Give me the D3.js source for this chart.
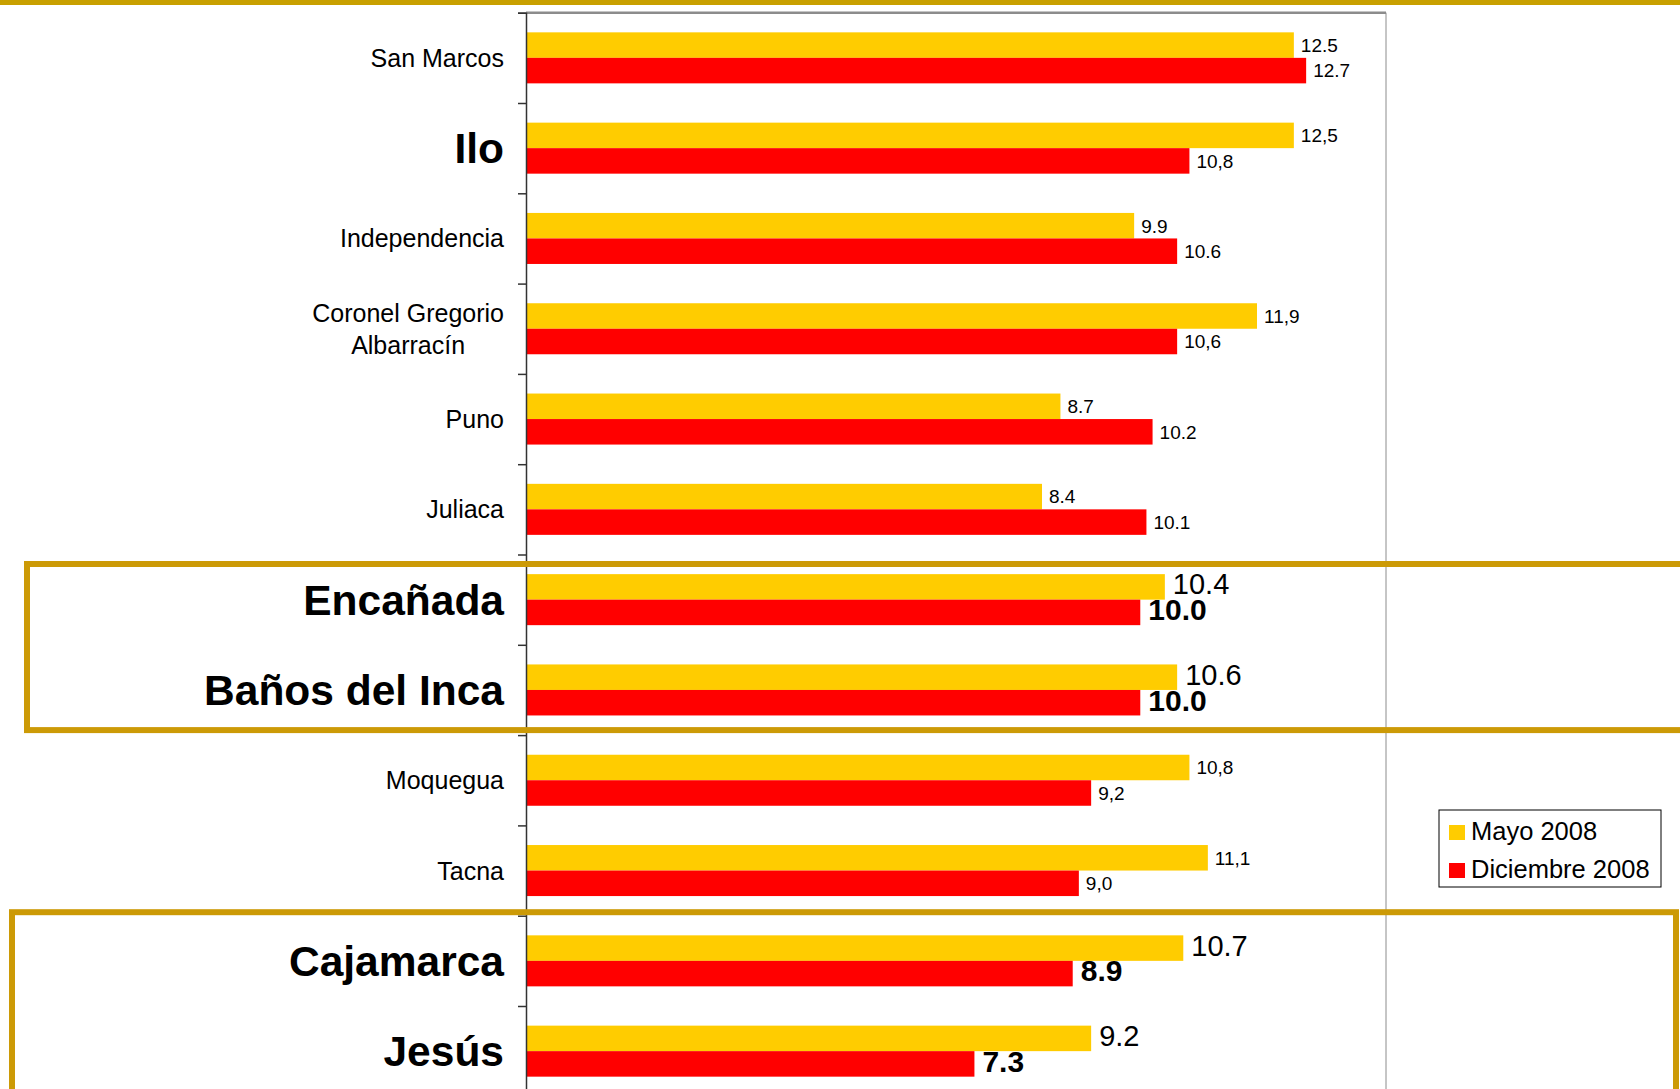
<!DOCTYPE html>
<html>
<head>
<meta charset="utf-8">
<script src="https://cdn.jsdelivr.net/npm/d3@7"></script>
<style>
  html, body { margin: 0; padding: 0; background: #fff; }
  svg { display: block; font-family: Arial, "Liberation Sans", sans-serif; }
</style>
</head>
<body>
<svg></svg>
<script>
const width = 1680;
const height = 1089;

// data
const categories = ["San Marcos", "Ilo", "Independencia", "Coronel Gregorio Albarracín", "Puno",
  "Juliaca", "Encañada", "Baños del Inca", "Moquegua", "Tacna", "Cajamarca", "Jesús"];
const series = ["Mayo 2008", "Diciembre 2008"];
const mayo = [12.5, 12.5, 9.9, 11.9, 8.7, 8.4, 10.4, 10.6, 10.8, 11.1, 10.7, 9.2];
const diciembre = [12.7, 10.8, 10.6, 10.6, 10.2, 10.1, 10.0, 10.0, 9.2, 9.0, 8.9, 7.3];
// labels as printed (some with decimal comma)
const mayoLabels = ["12.5", "12,5", "9.9", "11,9", "8.7", "8.4", "10.4", "10.6", "10,8", "11,1", "10.7", "9.2"];
const dicLabels = ["12.7", "10,8", "10.6", "10,6", "10.2", "10.1", "10.0", "10.0", "9,2", "9,0", "8.9", "7.3"];
const boldCategories = ["Ilo", "Encañada", "Baños del Inca", "Cajamarca", "Jesús"];
const bigLabelCategories = ["Encañada", "Baños del Inca", "Cajamarca", "Jesús"];
const highlightGroups = [["Encañada", "Baños del Inca"], ["Cajamarca", "Jesús"]];
const xMax = 14;

const colors = { "Mayo 2008": "#FFCC00", "Diciembre 2008": "#FF0000" };
const gold = "#CC9A06";

const rows = categories.map((c, i) => ({
  cat: c,
  vals: [
    { s: series[0], v: mayo[i], label: mayoLabels[i] },
    { s: series[1], v: diciembre[i], label: dicLabels[i] }
  ]
}));

const svg = d3.select("svg").attr("width", width).attr("height", height);

const plot = { left: 526, right: 1386, top: 12.7 };
const step = 90.3;

const x = d3.scaleLinear().domain([0, xMax]).range([plot.left, plot.right]);
const y = d3.scaleBand().domain(categories)
  .range([plot.top, plot.top + step * categories.length])
  .paddingInner(0.435).paddingOuter(0.2175);
const ySub = d3.scaleBand().domain(series).range([0, y.bandwidth()]);
const edge = d3.scaleLinear().domain([0, categories.length]).range(y.range());

// plot frame: top + right border
svg.append("line")
  .attr("x1", plot.left).attr("x2", plot.right)
  .attr("y1", plot.top).attr("y2", plot.top)
  .attr("stroke", "#8c8c8c").attr("stroke-width", 2.5);
svg.append("line")
  .attr("x1", plot.right).attr("x2", plot.right)
  .attr("y1", plot.top).attr("y2", height + 20)
  .attr("stroke", "#8c8c8c").attr("stroke-width", 1);

// bars
const groups = svg.append("g").selectAll("g")
  .data(rows).enter().append("g")
  .attr("transform", d => `translate(0,${y(d.cat)})`);

groups.selectAll("rect")
  .data(d => d.vals).enter().append("rect")
  .attr("x", x(0))
  .attr("y", d => ySub(d.s))
  .attr("width", d => x(d.v) - x(0))
  .attr("height", ySub.bandwidth())
  .attr("fill", d => colors[d.s]);

// value labels
groups.each(function (row) {
  const big = bigLabelCategories.includes(row.cat);
  d3.select(this).selectAll("text")
    .data(row.vals).enter().append("text")
    .attr("x", d => x(d.v) + (big ? 8 : 7))
    .attr("y", d => ySub(d.s) + ySub.bandwidth() / 2 - (big ? 3 : 0))
    .attr("dy", "0.36em")
    .attr("font-size", d => big ? (d.s === series[1] ? 30 : 29) : 19)
    .attr("font-weight", d => big && d.s === series[1] ? "bold" : "normal")
    .attr("fill", "#000")
    .text(d => d.label);
});

// y axis with ticks at band edges
const axis = svg.append("g")
  .attr("transform", `translate(${plot.left},0)`)
  .call(d3.axisLeft(edge).ticks(categories.length).tickSize(8).tickFormat(""));
axis.select(".domain").attr("stroke", "#333").attr("stroke-width", 1.5);
axis.selectAll(".tick line").attr("stroke", "#333").attr("stroke-width", 1.5);

// category labels
const labelX = 504;
const catLabels = svg.append("g").selectAll("text")
  .data(categories).enter().append("text")
  .attr("x", labelX)
  .attr("y", d => y(d) + y.bandwidth() / 2)
  .attr("text-anchor", "end")
  .attr("dy", "0.36em")
  .attr("font-size", d => boldCategories.includes(d) ? 42.5 : 25)
  .attr("font-weight", d => boldCategories.includes(d) ? "bold" : "normal")
  .attr("fill", "#000")
  .text(d => d);

// wrap the long label onto two centered lines
catLabels.filter(d => d === "Coronel Gregorio Albarracín").each(function (d) {
  const t = d3.select(this);
  const lines = ["Coronel Gregorio", "Albarracín"];
  t.text(lines[0]);
  const w = this.getComputedTextLength();
  const cx = labelX - w / 2;
  const cy = y(d) + y.bandwidth() / 2;
  t.text(null).attr("text-anchor", "middle").attr("dy", null);
  lines.forEach((ln, i) => {
    t.append("tspan")
      .attr("x", cx)
      .attr("y", cy + (i - 0.5) * 32)
      .attr("dy", "0.36em")
      .text(ln);
  });
});

// gold top rule
svg.append("rect")
  .attr("x", 0).attr("y", 0).attr("width", width).attr("height", 5)
  .attr("fill", "#C8A000");

// highlight boxes
const boxA = highlightGroups[0];
const aTop = y(boxA[0]) - y.step() * 0.2175 + 9.5;
const aBot = y(boxA[1]) + y.bandwidth() + y.step() * 0.2175 - 5;
svg.append("rect")
  .attr("x", 27).attr("y", aTop)
  .attr("width", width + 20).attr("height", aBot - aTop)
  .attr("fill", "none").attr("stroke", gold).attr("stroke-width", 6);

const boxB = highlightGroups[1];
const bTop = y(boxB[0]) - y.step() * 0.2175 - 3.5;
svg.append("rect")
  .attr("x", 12).attr("y", bTop)
  .attr("width", 1664).attr("height", height + 20 - bTop)
  .attr("fill", "none").attr("stroke", gold).attr("stroke-width", 6);

// legend
const legend = svg.append("g").attr("transform", "translate(1439,810)");
legend.append("rect")
  .attr("width", 222).attr("height", 77)
  .attr("fill", "#fff").attr("stroke", "#000").attr("stroke-width", 1);
const li = legend.selectAll("g.item")
  .data(series).enter().append("g")
  .attr("class", "item")
  .attr("transform", (d, i) => `translate(10,${15 + i * 38})`);
li.append("rect")
  .attr("width", 16).attr("height", 15)
  .attr("fill", d => colors[d]);
li.append("text")
  .attr("x", 22).attr("y", 6).attr("dy", "0.36em")
  .attr("font-size", 25.5).attr("fill", "#000")
  .text(d => d);
</script>
</body>
</html>
